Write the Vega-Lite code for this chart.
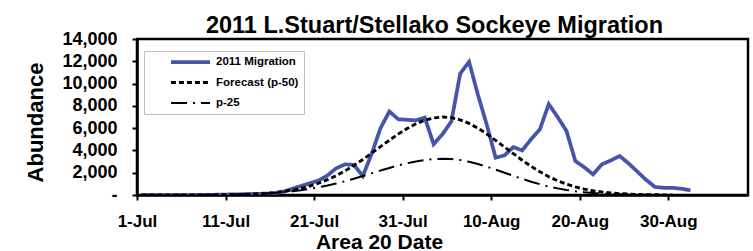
{
  "$schema": "https://vega.github.io/schema/vega-lite/v6.json",
  "autosize": "none",
  "width": 611,
  "height": 156,
  "padding": {"left": 137, "top": 39, "right": 5, "bottom": 56},
  "background": "white",
  "config": {
    "font": "Liberation Sans",
    "view": {"stroke": "black", "strokeWidth": 2.5},
    "axis": {"grid": false, "domainColor": "black", "domainWidth": 2.5, "tickColor": "black", "tickWidth": 2, "tickSize": 5, "labelColor": "black", "labelFont": "Liberation Sans", "labelFontWeight": "bold", "titleFont": "Liberation Sans", "titleFontWeight": "bold", "titleColor": "black"}
  },
  "title": {"text": "2011 L.Stuart/Stellako Sockeye Migration", "font": "Liberation Sans", "fontSize": 23.5, "fontWeight": "bold", "color": "black", "anchor": "middle", "frame": "group", "offset": 3, "dx": -8, "dy": 10},
  "data": {"values": [
    {"date":"2011-07-01","series":"2011 Migration","abundance":0},
    {"date":"2011-07-02","series":"2011 Migration","abundance":0},
    {"date":"2011-07-03","series":"2011 Migration","abundance":0},
    {"date":"2011-07-04","series":"2011 Migration","abundance":0},
    {"date":"2011-07-05","series":"2011 Migration","abundance":0},
    {"date":"2011-07-06","series":"2011 Migration","abundance":0},
    {"date":"2011-07-07","series":"2011 Migration","abundance":0},
    {"date":"2011-07-08","series":"2011 Migration","abundance":10},
    {"date":"2011-07-09","series":"2011 Migration","abundance":20},
    {"date":"2011-07-10","series":"2011 Migration","abundance":30},
    {"date":"2011-07-11","series":"2011 Migration","abundance":50},
    {"date":"2011-07-12","series":"2011 Migration","abundance":60},
    {"date":"2011-07-13","series":"2011 Migration","abundance":80},
    {"date":"2011-07-14","series":"2011 Migration","abundance":100},
    {"date":"2011-07-15","series":"2011 Migration","abundance":120},
    {"date":"2011-07-16","series":"2011 Migration","abundance":150},
    {"date":"2011-07-17","series":"2011 Migration","abundance":300},
    {"date":"2011-07-18","series":"2011 Migration","abundance":550},
    {"date":"2011-07-19","series":"2011 Migration","abundance":800},
    {"date":"2011-07-20","series":"2011 Migration","abundance":1050},
    {"date":"2011-07-21","series":"2011 Migration","abundance":1300},
    {"date":"2011-07-22","series":"2011 Migration","abundance":1750},
    {"date":"2011-07-23","series":"2011 Migration","abundance":2400},
    {"date":"2011-07-24","series":"2011 Migration","abundance":2750},
    {"date":"2011-07-25","series":"2011 Migration","abundance":2700},
    {"date":"2011-07-26","series":"2011 Migration","abundance":1700},
    {"date":"2011-07-27","series":"2011 Migration","abundance":3700},
    {"date":"2011-07-28","series":"2011 Migration","abundance":6000},
    {"date":"2011-07-29","series":"2011 Migration","abundance":7500},
    {"date":"2011-07-30","series":"2011 Migration","abundance":6800},
    {"date":"2011-07-31","series":"2011 Migration","abundance":6750},
    {"date":"2011-08-01","series":"2011 Migration","abundance":6700},
    {"date":"2011-08-02","series":"2011 Migration","abundance":6950},
    {"date":"2011-08-03","series":"2011 Migration","abundance":4550},
    {"date":"2011-08-04","series":"2011 Migration","abundance":5450},
    {"date":"2011-08-05","series":"2011 Migration","abundance":6600},
    {"date":"2011-08-06","series":"2011 Migration","abundance":10900},
    {"date":"2011-08-07","series":"2011 Migration","abundance":11950},
    {"date":"2011-08-08","series":"2011 Migration","abundance":9000},
    {"date":"2011-08-09","series":"2011 Migration","abundance":6300},
    {"date":"2011-08-10","series":"2011 Migration","abundance":3350},
    {"date":"2011-08-11","series":"2011 Migration","abundance":3550},
    {"date":"2011-08-12","series":"2011 Migration","abundance":4300},
    {"date":"2011-08-13","series":"2011 Migration","abundance":4000},
    {"date":"2011-08-14","series":"2011 Migration","abundance":5000},
    {"date":"2011-08-15","series":"2011 Migration","abundance":5900},
    {"date":"2011-08-16","series":"2011 Migration","abundance":8150},
    {"date":"2011-08-17","series":"2011 Migration","abundance":7000},
    {"date":"2011-08-18","series":"2011 Migration","abundance":5750},
    {"date":"2011-08-19","series":"2011 Migration","abundance":3050},
    {"date":"2011-08-20","series":"2011 Migration","abundance":2500},
    {"date":"2011-08-21","series":"2011 Migration","abundance":1850},
    {"date":"2011-08-22","series":"2011 Migration","abundance":2750},
    {"date":"2011-08-23","series":"2011 Migration","abundance":3100},
    {"date":"2011-08-24","series":"2011 Migration","abundance":3500},
    {"date":"2011-08-25","series":"2011 Migration","abundance":2850},
    {"date":"2011-08-26","series":"2011 Migration","abundance":2100},
    {"date":"2011-08-27","series":"2011 Migration","abundance":1350},
    {"date":"2011-08-28","series":"2011 Migration","abundance":720},
    {"date":"2011-08-29","series":"2011 Migration","abundance":650},
    {"date":"2011-08-30","series":"2011 Migration","abundance":640},
    {"date":"2011-08-31","series":"2011 Migration","abundance":560},
    {"date":"2011-09-01","series":"2011 Migration","abundance":420},
    {"date":"2011-07-01","series":"Forecast (p-50)","abundance":0},
    {"date":"2011-07-02","series":"Forecast (p-50)","abundance":0},
    {"date":"2011-07-03","series":"Forecast (p-50)","abundance":1},
    {"date":"2011-07-04","series":"Forecast (p-50)","abundance":1},
    {"date":"2011-07-05","series":"Forecast (p-50)","abundance":2},
    {"date":"2011-07-06","series":"Forecast (p-50)","abundance":3},
    {"date":"2011-07-07","series":"Forecast (p-50)","abundance":4},
    {"date":"2011-07-08","series":"Forecast (p-50)","abundance":7},
    {"date":"2011-07-09","series":"Forecast (p-50)","abundance":11},
    {"date":"2011-07-10","series":"Forecast (p-50)","abundance":18},
    {"date":"2011-07-11","series":"Forecast (p-50)","abundance":28},
    {"date":"2011-07-12","series":"Forecast (p-50)","abundance":44},
    {"date":"2011-07-13","series":"Forecast (p-50)","abundance":67},
    {"date":"2011-07-14","series":"Forecast (p-50)","abundance":101},
    {"date":"2011-07-15","series":"Forecast (p-50)","abundance":150},
    {"date":"2011-07-16","series":"Forecast (p-50)","abundance":218},
    {"date":"2011-07-17","series":"Forecast (p-50)","abundance":310},
    {"date":"2011-07-18","series":"Forecast (p-50)","abundance":433},
    {"date":"2011-07-19","series":"Forecast (p-50)","abundance":594},
    {"date":"2011-07-20","series":"Forecast (p-50)","abundance":800},
    {"date":"2011-07-21","series":"Forecast (p-50)","abundance":1055},
    {"date":"2011-07-22","series":"Forecast (p-50)","abundance":1367},
    {"date":"2011-07-23","series":"Forecast (p-50)","abundance":1738},
    {"date":"2011-07-24","series":"Forecast (p-50)","abundance":2168},
    {"date":"2011-07-25","series":"Forecast (p-50)","abundance":2652},
    {"date":"2011-07-26","series":"Forecast (p-50)","abundance":3183},
    {"date":"2011-07-27","series":"Forecast (p-50)","abundance":3749},
    {"date":"2011-07-28","series":"Forecast (p-50)","abundance":4334},
    {"date":"2011-07-29","series":"Forecast (p-50)","abundance":4913},
    {"date":"2011-07-30","series":"Forecast (p-50)","abundance":5465},
    {"date":"2011-07-31","series":"Forecast (p-50)","abundance":5965},
    {"date":"2011-08-01","series":"Forecast (p-50)","abundance":6388},
    {"date":"2011-08-02","series":"Forecast (p-50)","abundance":6712},
    {"date":"2011-08-03","series":"Forecast (p-50)","abundance":6920},
    {"date":"2011-08-04","series":"Forecast (p-50)","abundance":6999},
    {"date":"2011-08-05","series":"Forecast (p-50)","abundance":6942},
    {"date":"2011-08-06","series":"Forecast (p-50)","abundance":6747},
    {"date":"2011-08-07","series":"Forecast (p-50)","abundance":6424},
    {"date":"2011-08-08","series":"Forecast (p-50)","abundance":5995},
    {"date":"2011-08-09","series":"Forecast (p-50)","abundance":5478},
    {"date":"2011-08-10","series":"Forecast (p-50)","abundance":4906},
    {"date":"2011-08-11","series":"Forecast (p-50)","abundance":4307},
    {"date":"2011-08-12","series":"Forecast (p-50)","abundance":3705},
    {"date":"2011-08-13","series":"Forecast (p-50)","abundance":3121},
    {"date":"2011-08-14","series":"Forecast (p-50)","abundance":2575},
    {"date":"2011-08-15","series":"Forecast (p-50)","abundance":2083},
    {"date":"2011-08-16","series":"Forecast (p-50)","abundance":1643},
    {"date":"2011-08-17","series":"Forecast (p-50)","abundance":1281},
    {"date":"2011-08-18","series":"Forecast (p-50)","abundance":975},
    {"date":"2011-08-19","series":"Forecast (p-50)","abundance":727},
    {"date":"2011-08-20","series":"Forecast (p-50)","abundance":531},
    {"date":"2011-08-21","series":"Forecast (p-50)","abundance":380},
    {"date":"2011-08-22","series":"Forecast (p-50)","abundance":266},
    {"date":"2011-08-23","series":"Forecast (p-50)","abundance":183},
    {"date":"2011-08-24","series":"Forecast (p-50)","abundance":123},
    {"date":"2011-08-25","series":"Forecast (p-50)","abundance":81},
    {"date":"2011-08-26","series":"Forecast (p-50)","abundance":52},
    {"date":"2011-08-27","series":"Forecast (p-50)","abundance":33},
    {"date":"2011-08-28","series":"Forecast (p-50)","abundance":21},
    {"date":"2011-08-29","series":"Forecast (p-50)","abundance":13},
    {"date":"2011-08-30","series":"Forecast (p-50)","abundance":8},
    {"date":"2011-07-01","series":"p-25","abundance":0},
    {"date":"2011-07-02","series":"p-25","abundance":1},
    {"date":"2011-07-03","series":"p-25","abundance":1},
    {"date":"2011-07-04","series":"p-25","abundance":2},
    {"date":"2011-07-05","series":"p-25","abundance":3},
    {"date":"2011-07-06","series":"p-25","abundance":5},
    {"date":"2011-07-07","series":"p-25","abundance":7},
    {"date":"2011-07-08","series":"p-25","abundance":11},
    {"date":"2011-07-09","series":"p-25","abundance":16},
    {"date":"2011-07-10","series":"p-25","abundance":24},
    {"date":"2011-07-11","series":"p-25","abundance":35},
    {"date":"2011-07-12","series":"p-25","abundance":50},
    {"date":"2011-07-13","series":"p-25","abundance":71},
    {"date":"2011-07-14","series":"p-25","abundance":100},
    {"date":"2011-07-15","series":"p-25","abundance":138},
    {"date":"2011-07-16","series":"p-25","abundance":188},
    {"date":"2011-07-17","series":"p-25","abundance":251},
    {"date":"2011-07-18","series":"p-25","abundance":331},
    {"date":"2011-07-19","series":"p-25","abundance":429},
    {"date":"2011-07-20","series":"p-25","abundance":548},
    {"date":"2011-07-21","series":"p-25","abundance":688},
    {"date":"2011-07-22","series":"p-25","abundance":851},
    {"date":"2011-07-23","series":"p-25","abundance":1036},
    {"date":"2011-07-24","series":"p-25","abundance":1242},
    {"date":"2011-07-25","series":"p-25","abundance":1465},
    {"date":"2011-07-26","series":"p-25","abundance":1702},
    {"date":"2011-07-27","series":"p-25","abundance":1946},
    {"date":"2011-07-28","series":"p-25","abundance":2192},
    {"date":"2011-07-29","series":"p-25","abundance":2430},
    {"date":"2011-07-30","series":"p-25","abundance":2652},
    {"date":"2011-07-31","series":"p-25","abundance":2850},
    {"date":"2011-08-01","series":"p-25","abundance":3015},
    {"date":"2011-08-02","series":"p-25","abundance":3140},
    {"date":"2011-08-03","series":"p-25","abundance":3219},
    {"date":"2011-08-04","series":"p-25","abundance":3250},
    {"date":"2011-08-05","series":"p-25","abundance":3223},
    {"date":"2011-08-06","series":"p-25","abundance":3133},
    {"date":"2011-08-07","series":"p-25","abundance":2983},
    {"date":"2011-08-08","series":"p-25","abundance":2783},
    {"date":"2011-08-09","series":"p-25","abundance":2544},
    {"date":"2011-08-10","series":"p-25","abundance":2278},
    {"date":"2011-08-11","series":"p-25","abundance":1999},
    {"date":"2011-08-12","series":"p-25","abundance":1720},
    {"date":"2011-08-13","series":"p-25","abundance":1449},
    {"date":"2011-08-14","series":"p-25","abundance":1195},
    {"date":"2011-08-15","series":"p-25","abundance":967},
    {"date":"2011-08-16","series":"p-25","abundance":763},
    {"date":"2011-08-17","series":"p-25","abundance":595},
    {"date":"2011-08-18","series":"p-25","abundance":453},
    {"date":"2011-08-19","series":"p-25","abundance":338},
    {"date":"2011-08-20","series":"p-25","abundance":246},
    {"date":"2011-08-21","series":"p-25","abundance":176},
    {"date":"2011-08-22","series":"p-25","abundance":123},
    {"date":"2011-08-23","series":"p-25","abundance":85},
    {"date":"2011-08-24","series":"p-25","abundance":57},
    {"date":"2011-08-25","series":"p-25","abundance":38},
    {"date":"2011-08-26","series":"p-25","abundance":24},
    {"date":"2011-08-27","series":"p-25","abundance":15},
    {"date":"2011-08-28","series":"p-25","abundance":10},
    {"date":"2011-08-29","series":"p-25","abundance":6},
    {"date":"2011-08-30","series":"p-25","abundance":4}
  ]},
  "mark": {"type": "line", "clip": true},
  "encoding": {
    "x": {
      "field": "date", "type": "temporal", "timeUnit": "utcyearmonthdate", "bandPosition": 0.5,
      "scale": {"type": "utc", "domain": [{"year": 2011, "month": 7, "date": 1, "utc": true}, {"year": 2011, "month": 9, "date": 8, "utc": true}]},
      "axis": {
        "title": "Area 20 Date", "titleFontSize": 21, "titleX": 242, "titleY": 36,
        "values": [
          {"year": 2011, "month": 7, "date": 1, "utc": true},
          {"year": 2011, "month": 7, "date": 11, "utc": true},
          {"year": 2011, "month": 7, "date": 21, "utc": true},
          {"year": 2011, "month": 7, "date": 31, "utc": true},
          {"year": 2011, "month": 8, "date": 10, "utc": true},
          {"year": 2011, "month": 8, "date": 20, "utc": true},
          {"year": 2011, "month": 8, "date": 30, "utc": true}
        ],
        "labelExpr": "utcFormat(datum.value, '%-d-%b')", "labelFontSize": 17, "labelPadding": 13, "labelFlush": false, "labelOverlap": false
      }
    },
    "y": {
      "field": "abundance", "type": "quantitative",
      "scale": {"domain": [0, 14000], "nice": false},
      "axis": {
        "title": "Abundance", "titleFontSize": 22, "titleX": -90, "titleY": 83, "titleAlign": "center",
        "values": [0, 2000, 4000, 6000, 8000, 10000, 12000, 14000],
        "labelExpr": "datum.value == 0 ? '-\u00a0\u00a0\u00a0' : format(datum.value, ',')",
        "labelFontSize": 18, "labelPadding": 15
      }
    },
    "color": {
      "field": "series", "type": "nominal",
      "scale": {"domain": ["2011 Migration", "Forecast (p-50)", "p-25"], "range": ["#4455aa", "black", "black"]},
      "legend": {
        "title": null, "orient": "none", "legendX": 7, "legendY": 12, "padding": 5, "symbolOffset": 20,
        "symbolType": "stroke", "symbolSize": 1521, "labelOffset": 4, "clipHeight": 12, "rowPadding": 8.5,
        "labelFontSize": 11.5, "labelFontWeight": "bold", "labelColor": "black",
        "strokeColor": "#bfbfbf", "fillColor": "white"
      }
    },
    "strokeDash": {
      "field": "series", "type": "nominal",
      "scale": {"domain": ["2011 Migration", "Forecast (p-50)", "p-25"], "range": [[1, 0], [5, 3], [16, 6, 2, 6]]}
    },
    "strokeWidth": {
      "field": "series", "type": "nominal",
      "scale": {"domain": ["2011 Migration", "Forecast (p-50)", "p-25"], "range": [3.75, 2, 2]}
    }
  }
}
